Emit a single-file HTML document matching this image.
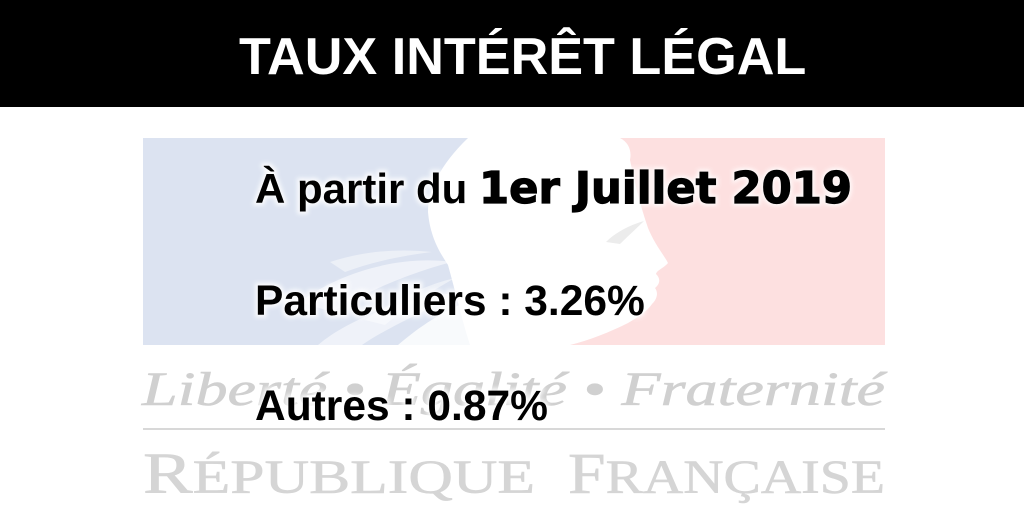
<!DOCTYPE html>
<html>
<head>
<meta charset="utf-8">
<style>
  html,body{margin:0;padding:0;background:#fff;}
  body{width:1024px;height:512px;overflow:hidden;position:relative;}
  svg{position:absolute;left:0;top:0;}
</style>
</head>
<body>
<svg width="1024" height="512" viewBox="0 0 1024 512" xmlns="http://www.w3.org/2000/svg">
  <defs>
    <filter id="glow" x="-10%" y="-30%" width="120%" height="160%">
      <feGaussianBlur stdDeviation="2.2"/>
    </filter>
  </defs>
  <!-- header -->
  <rect x="0" y="0" width="1024" height="107" fill="#000"/>
  <text x="239" y="74" font-family="'Liberation Sans', Arial, sans-serif" font-weight="bold" font-size="52.2" fill="#fff">TAUX INTÉRÊT LÉGAL</text>

  <!-- flag background -->
  <rect x="143" y="138" width="480" height="207" fill="#dce3f1"/>
  <rect x="560" y="138" width="325" height="207" fill="#fde0e0"/>
  <!-- Marianne white profile -->
  <path d="M468,138 L620,138 C628,142 632,150 630,160 C634,180 640,205 648,228 C655,245 664,255 668,263 C664,268 657,270 656,274 C660,278 661,283 655,288 C658,292 658,298 652,304 C648,310 640,316 628,323 C610,332 590,340 570,345 L470,345 C462,320 455,290 448,265 C438,250 430,235 428,212 C428,190 440,165 468,138 Z" fill="#fff"/>
  <!-- hair locks -->
  <path d="M300,302 C340,272 400,255 452,262 C420,270 372,288 332,312 Z" fill="#fff" opacity="0.55"/>
  <path d="M318,345 C350,318 405,298 462,292 C432,308 386,328 362,345 Z" fill="#fff" opacity="0.55"/>
  <path d="M398,345 C420,326 442,312 470,300 L470,345 Z" fill="#fff" opacity="0.8"/>
  <path d="M330,262 C360,252 395,248 432,252 C400,256 372,262 345,272 Z" fill="#fff" opacity="0.45"/>
  <path d="M365,320 C395,300 425,285 455,278 C430,292 405,308 385,325 Z" fill="#fff" opacity="0.45"/>
  <!-- eyebrow mark -->
  <path d="M606,242 C616,232 630,225 644,221 C636,229 628,236 620,244 Z" fill="#ececec"/>

  <!-- Liberté Égalité Fraternité -->
  <text x="142" y="405" font-family="'Liberation Serif', 'Times New Roman', serif" font-style="italic" font-size="48" fill="#d0d0d0" stroke="#d0d0d0" stroke-width="0.6" textLength="743" lengthAdjust="spacingAndGlyphs">Liberté • Égalité • Fraternité</text>
  <!-- line -->
  <rect x="143" y="428" width="742" height="2" fill="#d8d8d8"/>
  <!-- République Française -->
  <text x="143" y="493" font-family="'Liberation Serif', 'Times New Roman', serif" font-size="48" fill="#d5d5d5" stroke="#d5d5d5" stroke-width="0.6" textLength="392" lengthAdjust="spacingAndGlyphs"><tspan font-size="58">R</tspan>ÉPUBLIQUE</text>
  <text x="568" y="493" font-family="'Liberation Serif', 'Times New Roman', serif" font-size="48" fill="#d5d5d5" stroke="#d5d5d5" stroke-width="0.6" textLength="317" lengthAdjust="spacingAndGlyphs"><tspan font-size="58">F</tspan>RANÇAISE</text>

  <!-- glow layers -->
  <g filter="url(#glow)" fill="#fff" stroke="#fff" stroke-width="5" opacity="0.9">
    <text x="255" y="203" font-family="'Liberation Sans', Arial, sans-serif" font-weight="bold" font-size="42">À partir du <tspan font-family="'DejaVu Sans', sans-serif" font-size="43.3">1er Juillet 2019</tspan></text>
    <text x="255" y="315" font-family="'Liberation Sans', Arial, sans-serif" font-weight="bold" font-size="42.5">Particuliers : 3.26%</text>
    <text x="255" y="420" font-family="'Liberation Sans', Arial, sans-serif" font-weight="bold" font-size="42.5">Autres : 0.87%</text>
  </g>
  <!-- main texts -->
  <g fill="#000">
    <text x="255" y="203" font-family="'Liberation Sans', Arial, sans-serif" font-weight="bold" font-size="42">À partir du <tspan font-family="'DejaVu Sans', sans-serif" font-size="43.3" stroke="#000" stroke-width="1.2">1er Juillet 2019</tspan></text>
    <text x="255" y="315" font-family="'Liberation Sans', Arial, sans-serif" font-weight="bold" font-size="42.5">Particuliers : 3.26%</text>
    <text x="255" y="420" font-family="'Liberation Sans', Arial, sans-serif" font-weight="bold" font-size="42.5">Autres : 0.87%</text>
  </g>
</svg>
</body>
</html>
